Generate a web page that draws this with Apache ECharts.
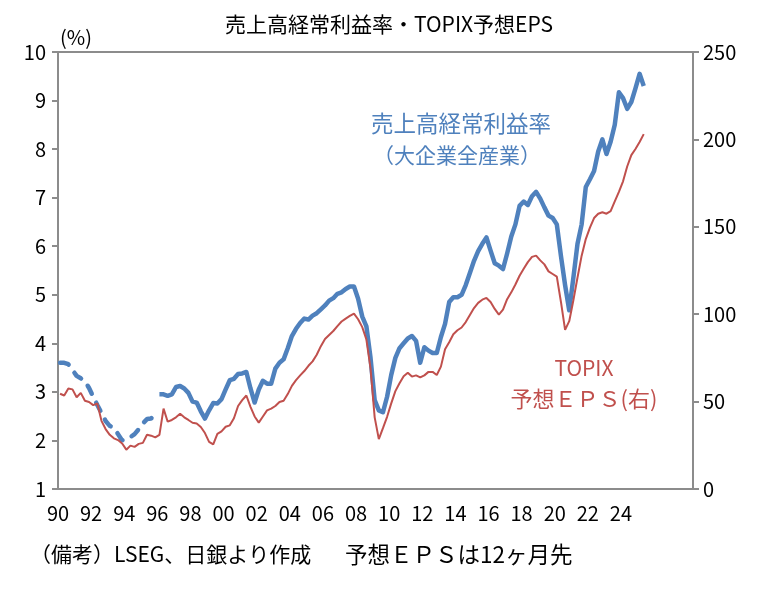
<!DOCTYPE html>
<html>
<head>
<meta charset="utf-8">
<script src="https://cdn.jsdelivr.net/npm/echarts@6/dist/echarts.min.js"></script>
<style>
  html, body { margin: 0; padding: 0; background: #fff; }
  #chart { width: 771px; height: 589px; }
</style>
</head>
<body>
<div id="chart"></div>
<script>
// quarterly series, first point 1990Q1
var startYear = 1990;
var dashCount = 24; // 1990-1995 drawn dashed (old basis)

// 売上高経常利益率 (大企業全産業), %
var ratio = [
    3.6, 3.6, 3.57, 3.45,
    3.33, 3.28, 3.22, 3.08,
    2.9, 2.73, 2.57, 2.4,
    2.3, 2.26, 2.13, 2.0,
    2.04, 2.07, 2.13, 2.23,
    2.35, 2.44, 2.45, 2.57,
    2.95, 2.95, 2.92, 2.95,
    3.1, 3.12, 3.07, 2.98,
    2.8, 2.78, 2.6, 2.45,
    2.62, 2.77, 2.76, 2.85,
    3.05, 3.24, 3.27, 3.37,
    3.38, 3.41, 3.07, 2.78,
    3.05, 3.23, 3.17, 3.17,
    3.48, 3.6, 3.67, 3.9,
    4.15, 4.3, 4.42, 4.51,
    4.49, 4.57, 4.62, 4.7,
    4.78, 4.88, 4.93, 5.02,
    5.05, 5.12, 5.17, 5.17,
    4.92, 4.55, 4.35, 3.7,
    2.83, 2.62, 2.58, 2.9,
    3.35, 3.7, 3.9, 4.0,
    4.1, 4.15, 4.05, 3.6,
    3.92, 3.85, 3.8, 3.8,
    4.13, 4.4, 4.85, 4.95,
    4.95, 5.0, 5.2, 5.45,
    5.7, 5.9, 6.05, 6.18,
    5.91, 5.65, 5.6, 5.53,
    5.85, 6.2, 6.45, 6.83,
    6.92, 6.85, 7.03, 7.12,
    6.98, 6.8, 6.63, 6.58,
    6.45, 5.8, 5.2, 4.68,
    5.35, 6.05, 6.45, 7.22,
    7.38, 7.55, 7.95, 8.2,
    7.9, 8.15, 8.5, 9.17,
    9.05, 8.83, 8.97, 9.25,
    9.55, 9.3
];

// TOPIX 予想EPS (right axis)
var eps = [
    54.5, 53.5, 57.5, 57,
    52.5, 55, 50.5, 49.8,
    48, 48.9, 39, 34.3,
    31, 29, 28, 26,
    22.5, 24.8, 24.1, 25.8,
    26.4, 31, 30.5, 29.5,
    31, 46, 38.5, 39.5,
    41, 43, 41, 39.5,
    37.9, 37.5, 35.5, 32,
    27, 25.5, 31.5, 33,
    35.6, 36.4, 40.5, 47.5,
    50.8, 53.5, 47, 41.5,
    38, 41.5, 45, 46,
    47.5, 49.8, 50.5, 54.3,
    59, 62.3, 65, 67.5,
    70.5, 73, 76.8, 81.7,
    85.8, 88.1, 90.4, 93.2,
    95.8, 97.5, 99, 100.3,
    97.1, 92.6, 85.5, 69,
    41, 28.5, 34.8, 41.3,
    49, 56, 60.5, 64.5,
    66.5, 64.3, 65, 63.8,
    65, 67, 67, 65.2,
    70, 80, 84, 88.5,
    90.8, 92.4, 95.5, 99.5,
    103.5, 106.5, 108.3, 109.3,
    107, 103, 99.8, 102.6,
    108.6, 112.5, 117, 122,
    126, 129.8, 132.8, 133.5,
    130.8, 128.5, 124.5, 123,
    121.5, 107, 91, 96,
    108, 121, 133.5, 143,
    149.5, 155, 157.5, 158.3,
    157.5, 159, 164.5, 170,
    176, 184.5, 191, 194.5,
    198.5, 203
];

var leftTicks = { min: 1, max: 10, step: 1 };
var rightTicks = { min: 0, max: 250, step: 50 };
var lastLabelYear = 2024;

var font = "'Noto Sans CJK JP', sans-serif";
var blue = '#4f81bd';
var red = '#c0504d';
var axisGrey = '#8c8c8c';

// quarter midpoints as decimal years
function qdate(i) { return startYear + 0.125 + i * 0.25; }

var ratioDashed = [], ratioSolid = [], epsData = [];
ratio.forEach((v, i) => {
    if (i < dashCount) ratioDashed.push([qdate(i), v]);
    else ratioSolid.push([qdate(i), v]);
});
eps.forEach((v, i) => epsData.push([qdate(i), v]));

var chart = echarts.init(document.getElementById('chart'));

var option = {
    animation: false,
    grid: { left: 58, right: 78, top: 52, bottom: 100, show: true, borderColor: axisGrey, borderWidth: 2 },
    xAxis: {
        type: 'value', min: 1990, max: 2028.35, interval: 2,
        axisLine: { lineStyle: { color: axisGrey, width: 2 } },
        axisTick: { show: false },
        splitLine: { show: false },
        axisLabel: {
            color: '#000', fontSize: 20, fontFamily: font, margin: 14,
            formatter: (v) => (v <= lastLabelYear && Number.isInteger(v)) ? String(v).slice(2) : ''
        }
    },
    yAxis: [{
        type: 'value', min: leftTicks.min, max: leftTicks.max, interval: leftTicks.step,
        axisLine: { show: true, lineStyle: { color: axisGrey, width: 2 } },
        axisTick: { show: true, length: 6, lineStyle: { color: axisGrey, width: 2 } },
        splitLine: { show: false },
        axisLabel: { color: '#000', fontSize: 20, fontFamily: font, margin: 12 }
    }, {
        type: 'value', position: 'right', min: rightTicks.min, max: rightTicks.max, interval: rightTicks.step,
        axisLine: { show: true, lineStyle: { color: axisGrey, width: 2 } },
        axisTick: { show: true, length: 6, lineStyle: { color: axisGrey, width: 2 } },
        splitLine: { show: false },
        axisLabel: { color: '#000', fontSize: 20, fontFamily: font, margin: 10 }
    }],
    series: [{
        type: 'line', data: ratioDashed, showSymbol: false, yAxisIndex: 0,
        lineStyle: { color: blue, width: 4.5, type: [9, 10], cap: 'round' }
    }, {
        type: 'line', data: ratioSolid, showSymbol: false, yAxisIndex: 0,
        lineStyle: { color: blue, width: 4.5, join: 'round' }
    }, {
        type: 'line', data: epsData, showSymbol: false, yAxisIndex: 1,
        lineStyle: { color: red, width: 2 }
    }],
    graphic: [
        { type: 'text', x: 389, y: 24, style: { text: '売上高経常利益率・TOPIX予想EPS', font: '21px ' + font, fill: '#000', align: 'center', verticalAlign: 'middle' } },
        { type: 'text', left: 60, top: 27, style: { text: '(%)', font: '20px ' + font, fill: '#000' } },
        { type: 'text', x: 461, y: 123, style: { text: '売上高経常利益率', font: '22.5px ' + font, fill: blue, align: 'center', verticalAlign: 'middle' } },
        { type: 'text', x: 457, y: 155, style: { text: '（大企業全産業）', font: '21px ' + font, fill: blue, align: 'center', verticalAlign: 'middle' } },
        { type: 'text', x: 584, y: 368, style: { text: 'TOPIX', font: '21px ' + font, fill: red, align: 'center', verticalAlign: 'middle' } },
        { type: 'text', x: 584, y: 399, style: { text: '予想ＥＰＳ(右)', font: '22px ' + font, fill: red, align: 'center', verticalAlign: 'middle' } },
        { type: 'text', left: 30, top: 544, style: { text: '（備考）LSEG、日銀より作成', font: '21px ' + font, fill: '#000' } },
        { type: 'text', left: 345, top: 543, style: { text: '予想ＥＰＳは12ヶ月先', font: '22.5px ' + font, fill: '#000' } }
    ]
};

chart.setOption(option);
</script>
</body>
</html>
